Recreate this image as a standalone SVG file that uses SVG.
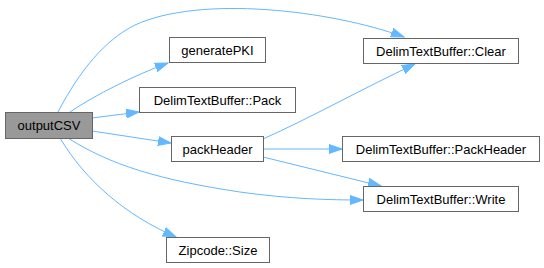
<svg xmlns="http://www.w3.org/2000/svg" width="544" height="268" viewBox="0 0 544 268">
  <style>
    .node rect { fill: #ffffff; stroke: #666666; stroke-width: 1; }
    .node.root rect { fill: #999999; }
    .node text { font-family: "Liberation Sans", Arial, sans-serif; font-size: 13px; fill: #000000; text-anchor: middle; }
    .edge { fill: none; stroke: #63b8ff; stroke-width: 1; marker-end: url(#arrow); }
  </style>
  <defs>
    <marker id="arrow" markerUnits="userSpaceOnUse" markerWidth="14" markerHeight="10" refX="13" refY="5" orient="auto">
      <path d="M0,0.5 L13,5 L0,9.5 Z" fill="#63b8ff" stroke="#63b8ff" stroke-width="1"/>
    </marker>
  </defs>

  <rect width="544" height="268" fill="#ffffff"/>

  <g id="connectors">
    <path class="edge" d="M58,112 C80,70 105,40 135,25 C200,-5 330,10 404,37"/>
    <path class="edge" d="M70,112 C95,95 135,75 168,63"/>
    <path class="edge" d="M92,118 L139,112"/>
    <path class="edge" d="M92,131 L171,143"/>
    <path class="edge" d="M68,138 C110,165 160,180 240,192 C290,199 330,200 363,200"/>
    <path class="edge" d="M60,138 C85,180 125,215 176,237"/>
    <path class="edge" d="M263,139 C310,118 360,90 415,64"/>
    <path class="edge" d="M263,149 L342,149"/>
    <path class="edge" d="M263,157 L381,186"/>
  </g>

  <g id="node-outputCSV" class="node root">
    <rect x="5.5" y="112.5" width="87" height="26"/>
    <text x="49" y="130">outputCSV</text>
  </g>
  <g id="node-generatePKI" class="node">
    <rect x="169.5" y="37.5" width="96" height="25"/>
    <text x="217.5" y="54.5">generatePKI</text>
  </g>
  <g id="node-Pack" class="node">
    <rect x="139.5" y="87.5" width="156" height="25"/>
    <text x="217.5" y="104.5">DelimTextBuffer::Pack</text>
  </g>
  <g id="node-Clear" class="node">
    <rect x="363.5" y="38.5" width="155" height="25"/>
    <text x="441" y="55.5">DelimTextBuffer::Clear</text>
  </g>
  <g id="node-packHeader" class="node">
    <rect x="171.5" y="136.5" width="92" height="25"/>
    <text x="217.5" y="153.5">packHeader</text>
  </g>
  <g id="node-PackHeader" class="node">
    <rect x="342.5" y="136.5" width="197" height="25"/>
    <text x="441" y="153.5">DelimTextBuffer::PackHeader</text>
  </g>
  <g id="node-Write" class="node">
    <rect x="363.5" y="186.5" width="155" height="25"/>
    <text x="441" y="203.5">DelimTextBuffer::Write</text>
  </g>
  <g id="node-Size" class="node">
    <rect x="166.5" y="237.5" width="103" height="25"/>
    <text x="218" y="254.5">Zipcode::Size</text>
  </g>
</svg>
